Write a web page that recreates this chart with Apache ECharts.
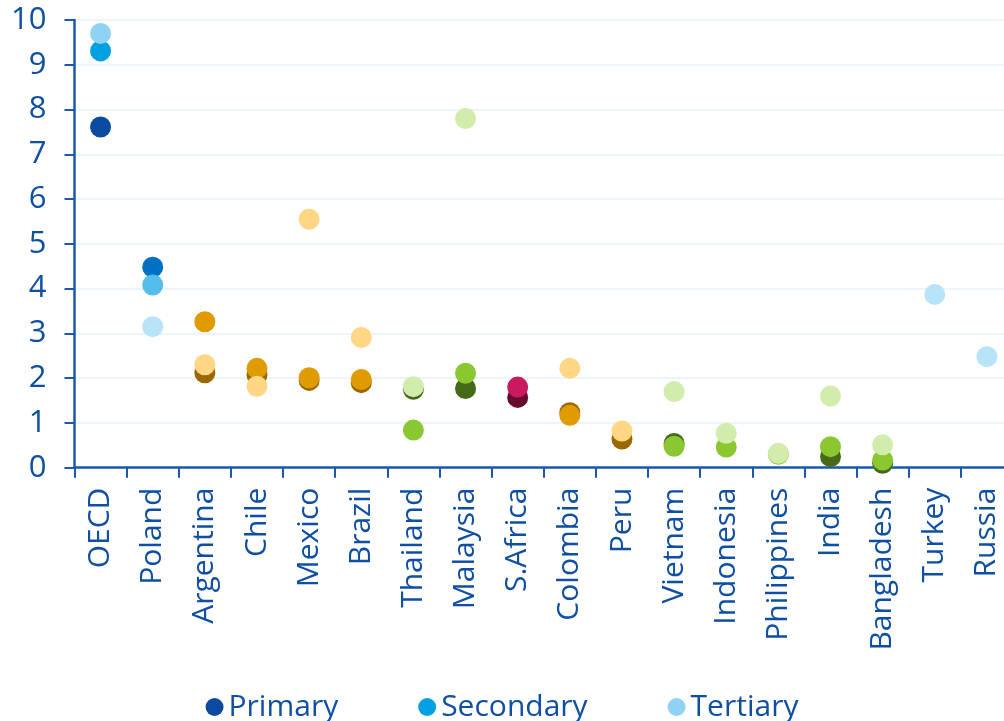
<!DOCTYPE html>
<html>
<head>
<meta charset="utf-8">
<script src="https://cdn.jsdelivr.net/npm/echarts@6/dist/echarts.min.js"></script>
<style>
  html, body { margin: 0; padding: 0; background: #ffffff; }
  #chart { width: 1004px; height: 721px; }
</style>
</head>
<body>
<div id="chart"></div>
<script>
// Education level indicators by country
const categories = ['OECD', 'Poland', 'Argentina', 'Chile', 'Mexico', 'Brazil', 'Thailand', 'Malaysia',
  'S.Africa', 'Colombia', 'Peru', 'Vietnam', 'Indonesia', 'Philippines', 'India', 'Bangladesh', 'Turkey', 'Russia'];

const primary   = [7.61, 4.48, 2.12, 2.07, 1.95, 1.90, 1.75, 1.77, 1.57, 1.23, 0.64, 0.54, null, null, 0.25, 0.10, null, null];
const secondary = [9.31, 4.08, 3.26, 2.22, 2.01, 1.97, 0.84, 2.11, 1.80, 1.17, null, 0.48, 0.46, 0.30, 0.47, 0.17, null, null];
const tertiary  = [9.70, 3.15, 2.30, 1.82, 5.55, 2.91, 1.81, 7.80, null, 2.22, 0.82, 1.70, 0.77, 0.32, 1.60, 0.51, 3.87, 2.48];

const yTicks = [0, 1, 2, 3, 4, 5, 6, 7, 8, 9, 10];

// Colour family used by each country: [primary, secondary, tertiary]
const palettes = {
  oecd:    ['#0a4b9f', '#00a0e3', '#8fd3f3'],
  poland:  ['#0070c2', '#55bdeb', '#b8e4f7'],
  orange:  ['#9a6800', '#e09b00', '#ffd684'],
  green:   ['#446a18', '#8bc731', '#d1ecab'],
  crimson: ['#660c2f', '#c9195f', '#f0a0c0']
};
const countryPalette = ['oecd', 'poland', 'orange', 'orange', 'orange', 'orange', 'green', 'green',
  'crimson', 'orange', 'orange', 'green', 'green', 'green', 'green', 'green', 'poland', 'poland'];

const legendColors = ['#0a4b9f', '#00a0e3', '#8fd3f3'];
const textColor = '#0f4fa3';
const axisColor = '#1a58ad';
const font = '"Open Sans", "DejaVu Sans", sans-serif';

function points(values, level) {
  return values.map((v, i) => ({
    value: v,
    itemStyle: { color: palettes[countryPalette[i]][level] }
  }));
}

function series(name, values, level) {
  return {
    name: name,
    type: 'scatter',
    symbol: 'circle',
    symbolSize: 21,
    itemStyle: { color: legendColors[level], opacity: 1 },
    emphasis: { disabled: true },
    data: points(values, level)
  };
}

const chart = echarts.init(document.getElementById('chart'), null, { renderer: 'canvas' });
chart.setOption({
  animation: false,
  backgroundColor: '#ffffff',
  textStyle: { fontFamily: font },
  grid: {
    left: 74.5,
    top: 20,
    width: 938.5,
    height: 447.7,
    containLabel: false,
    outerBoundsMode: 'none'
  },
  legend: {
    data: ['Primary', 'Secondary', 'Tertiary'],
    left: 'center',
    top: 687,
    icon: 'circle',
    itemWidth: 18,
    itemHeight: 18,
    itemGap: 80,
    selectedMode: false,
    textStyle: { color: textColor, fontSize: 30, fontWeight: 500, fontFamily: font }
  },
  xAxis: {
    type: 'category',
    data: categories,
    boundaryGap: true,
    axisLine: { show: true, lineStyle: { color: axisColor, width: 2.5 } },
    axisTick: { show: true, length: 10, alignWithLabel: false, lineStyle: { color: axisColor, width: 2 } },
    axisLabel: {
      rotate: 90,
      margin: 20,
      interval: 0,
      color: textColor,
      fontSize: 30,
      fontWeight: 500,
      fontFamily: font
    },
    splitLine: { show: false }
  },
  yAxis: {
    type: 'value',
    min: yTicks[0],
    max: yTicks[yTicks.length - 1],
    interval: 1,
    axisLine: { show: true, lineStyle: { color: axisColor, width: 2.5 } },
    axisTick: { show: true, length: 10, lineStyle: { color: axisColor, width: 2 } },
    axisLabel: {
      margin: 28,
      color: textColor,
      fontSize: 31,
      fontWeight: 500,
      fontFamily: font
    },
    splitLine: { show: true, lineStyle: { color: '#e6f2fb', width: 1.5 } }
  },
  series: [
    series('Primary', primary, 0),
    series('Secondary', secondary, 1),
    series('Tertiary', tertiary, 2)
  ]
});
</script>
</body>
</html>
